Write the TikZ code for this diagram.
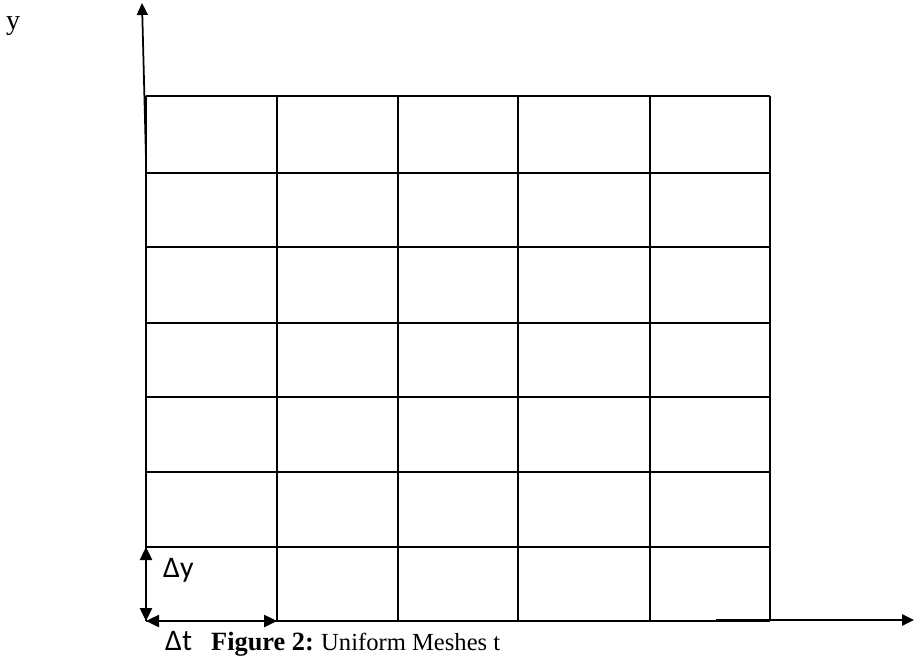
\documentclass[tikz,border=0pt]{standalone}
\usepackage{fontspec}
\setmainfont{Liberation Serif}
\newfontfamily\calib{Carlito}
\usetikzlibrary{arrows.meta}

\begin{document}
\begin{tikzpicture}[x=0.02cm, y=-0.02cm, line width=1.4pt,
  tip/.style={-{Triangle[length=0.24cm,width=0.22cm]}},
  dtip/.style={{Triangle[length=0.26cm,width=0.24cm]}-{Triangle[length=0.26cm,width=0.24cm]}},
  txt/.style={anchor=base west, inner sep=0pt}]
  \useasboundingbox (0,0) rectangle (915,658);
  % mesh
  \foreach \x in {146,277,398,518,650,770} \draw (\x,96) -- (\x,621);
  \foreach \y in {96,173,247,323,397,472,547,621} \draw (146,\y) -- (770,\y);
  % axes
  \coordinate (yfoot) at (146,158); \coordinate (ytop) at (142,3);
  \coordinate (xfoot) at (716,620); \coordinate (xend) at (914,620);
  \draw[tip, line width=1pt] (yfoot) -- (ytop);
  \draw[tip, line width=1.4pt] (xfoot) -- (xend);
  \node[txt] (ylab) at (5,30) {\fontsize{16}{18}\selectfont y};
  % steps
  \coordinate (o) at (146,621); \coordinate (dyend) at (146,547); \coordinate (dtend) at (277,621);
  \draw[dtip] (o) -- (dyend);
  \draw[dtip] (o) -- (dtend);
  \node[txt] (dy) at (162,577) {\calib\fontsize{17}{19}\selectfont Δy};
  \node[txt] (dt) at (164,650) {\calib\fontsize{17}{19}\selectfont Δt};
  \node[txt] (fig) at (210,650) {\fontsize{15}{17}\selectfont\textbf{Figure 2:}};
  \node[txt] (cap) at (320,650) {\fontsize{14}{16}\selectfont Uniform Meshes t};
\end{tikzpicture}
\end{document}
